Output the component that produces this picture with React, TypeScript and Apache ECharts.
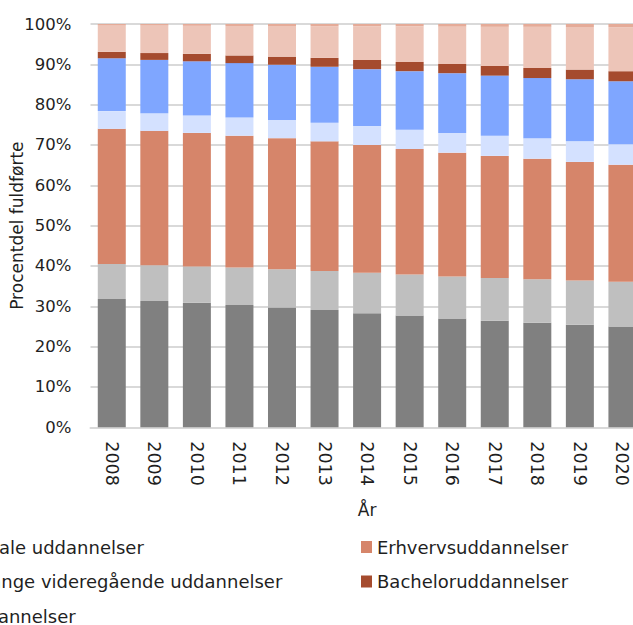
import React, { useEffect, useRef } from "react";
import * as echarts from "echarts";

const years = ["2008", "2009", "2010", "2011", "2012", "2013", "2014", "2015", "2016", "2017", "2018", "2019", "2020"];

const grundskole = [31.8, 31.3, 30.9, 30.3, 29.7, 29.1, 28.3, 27.7, 27.0, 26.4, 25.9, 25.4, 25.0];
const gymnasiale = [8.7, 8.9, 9.0, 9.3, 9.5, 9.65, 10.0, 10.2, 10.4, 10.6, 10.8, 11.0, 11.1];
const erhverv = [33.5, 33.3, 33.1, 32.7, 32.5, 32.15, 31.7, 31.1, 30.7, 30.3, 29.9, 29.4, 29.0];
const korte = [4.4, 4.4, 4.3, 4.5, 4.5, 4.6, 4.7, 4.8, 4.9, 5.0, 5.1, 5.1, 5.1];
const mellemlange = [13.1, 13.2, 13.45, 13.5, 13.7, 13.9, 14.1, 14.5, 14.8, 14.9, 14.9, 15.4, 15.6];
const bachelor = [1.6, 1.7, 1.85, 1.9, 2.0, 2.2, 2.3, 2.3, 2.3, 2.4, 2.5, 2.4, 2.5];
const lange = [6.5, 6.8, 6.95, 7.3, 7.6, 7.85, 8.3, 8.8, 9.25, 9.7, 10.2, 10.55, 10.9];
const phd = [0.4, 0.4, 0.45, 0.5, 0.5, 0.55, 0.6, 0.6, 0.65, 0.7, 0.7, 0.75, 0.8];

const seriesDefs = [
  { name: "Grundskole", data: grundskole, color: "#808080" },
  { name: "Gymnasiale uddannelser", data: gymnasiale, color: "#bfbfbf" },
  { name: "Erhvervsuddannelser", data: erhverv, color: "#d6856a" },
  { name: "Korte videregående uddannelser", data: korte, color: "#d4e1ff" },
  { name: "Mellemlange videregående uddannelser", data: mellemlange, color: "#7fa6ff" },
  { name: "Bacheloruddannelser", data: bachelor, color: "#a54b2e" },
  { name: "Lange videregående uddannelser", data: lange, color: "#edc5b8" },
  { name: "Ph.d.-uddannelser", data: phd, color: "#e5ab98" },
];

// legend laid out in a 3-column grid (row-major order of the series)
const legendCols = [
  ["Grundskole", "Korte videregående uddannelser", "Lange videregående uddannelser"],
  ["Gymnasiale uddannelser", "Mellemlange videregående uddannelser", "Ph.d.-uddannelser"],
  ["Erhvervsuddannelser", "Bacheloruddannelser"],
];

const FONT = "DejaVu Sans";
const TEXT = "#1f1f1f";

export default function App() {
  const ref = useRef<HTMLDivElement>(null);
  useEffect(() => {
    if (!ref.current) return;
    const chart = echarts.init(ref.current, undefined, { renderer: "svg" });
    const colLeft = [[-553, -553, -553], [-96, -96, -104], [361, 361]];
    const rowTop = [537, 571.5, 606];
    const legends: any[] = [];
    legendCols.forEach((col, ci) => {
      col.forEach((name, ri) => {
        legends.push({
          orient: "horizontal",
          left: colLeft[ci][ri],
          top: rowTop[ri],
          padding: 0,
          itemWidth: 11,
          itemHeight: 12,
          icon: "rect",
          selectedMode: false,
          data: [name],
          textStyle: { fontFamily: FONT, fontSize: 18, color: TEXT, lineHeight: 20 },
        });
      });
    });
    chart.setOption({
      animation: false,
      textStyle: { fontFamily: FONT },
      grid: {
        left: 90.5,
        right: -10.7,
        top: 24,
        bottom: 197.7,
        containLabel: false,
        outerBoundsMode: "none",
      },
      legend: legends,
      xAxis: {
        type: "category",
        data: years,
        name: "År",
        nameLocation: "middle",
        nameGap: 74,
        nameMoveOverlap: false,
        nameTextStyle: { fontFamily: FONT, fontSize: 17, color: TEXT },
        axisTick: { show: false },
        axisLine: { show: true, lineStyle: { color: "#d9d9d9", width: 2 } },
        axisLabel: { rotate: -90, margin: 14, fontSize: 17.5, color: TEXT, fontFamily: FONT },
      },
      yAxis: {
        type: "value",
        min: 0,
        max: 100,
        interval: 10,
        name: "Procentdel fuldførte",
        nameLocation: "middle",
        nameGap: 65.5,
        nameMoveOverlap: false,
        nameTextStyle: { fontFamily: FONT, fontSize: 17, color: TEXT },
        axisLine: { show: false },
        axisTick: { show: false },
        axisLabel: { formatter: "{value}%", margin: 19, fontSize: 16.5, color: TEXT, fontFamily: FONT },
        splitLine: { show: true, lineStyle: { color: "#d9d9d9", width: 2 } },
      },
      series: seriesDefs.map((s) => ({
        name: s.name,
        type: "bar",
        stack: "total",
        barWidth: 28,
        data: s.data,
        itemStyle: { color: s.color },
        emphasis: { disabled: true },
      })),
    });
    return () => chart.dispose();
  }, []);
  return (
    <div
      ref={ref}
      style={{ position: "fixed", left: 0, top: 0, width: 633, height: 625, background: "#ffffff" }}
    />
  );
}
